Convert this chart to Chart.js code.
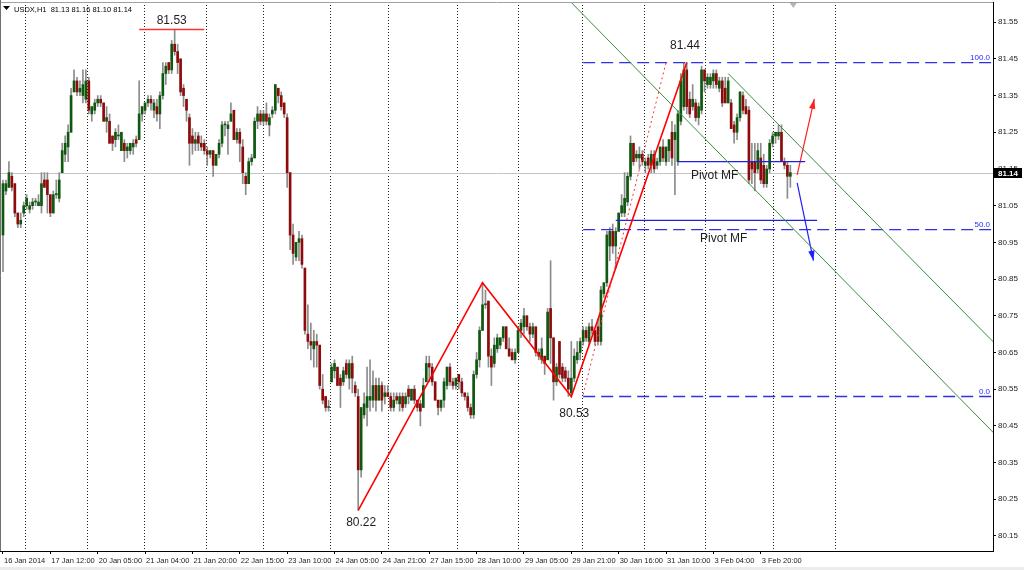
<!DOCTYPE html>
<html>
<head>
<meta charset="utf-8">
<title>USDX,H1</title>
<script src="https://cdn.jsdelivr.net/npm/chart.js@4.4.1/dist/chart.umd.min.js"></script>
<style>
  html, body { margin: 0; padding: 0; background: #fff; }
  #wrap { width: 1024px; height: 570px; }
</style>
</head>
<body>
<div id="wrap"><canvas id="chart" width="1024" height="570"></canvas></div>
<script>
// USDX H1 candles, 16 Jan 2014 .. 4 Feb 2014
const opens = [
  80.97,81.09,81.10,81.13,81.11,81.03,81.00,81.03,81.05,81.04,
  81.05,81.06,81.05,81.05,81.12,81.12,81.08,81.03,81.08,81.07,
  81.14,81.19,81.21,81.25,81.36,81.39,81.36,81.35,81.34,81.39,
  81.30,81.31,81.33,81.34,81.33,81.28,81.28,81.24,81.23,81.24,
  81.20,81.22,81.20,81.20,81.21,81.23,81.23,81.30,81.31,81.33,
  81.34,81.31,81.32,81.30,81.35,81.41,81.44,81.42,81.49,81.47,
  81.45,81.37,81.34,81.29,81.24,81.22,81.24,81.22,81.22,81.20,
  81.19,81.20,81.16,81.19,81.22,81.27,81.26,81.28,81.31,81.23,
  81.25,81.21,81.13,81.11,81.17,81.18,81.28,81.30,81.28,81.30,
  81.27,81.30,81.31,81.37,81.35,81.33,81.29,81.14,80.97,80.91,
  80.95,80.96,80.88,80.70,80.68,80.66,80.68,80.67,80.55,80.53,
  80.50,80.57,80.60,80.61,80.58,80.57,80.62,80.58,80.62,80.56,
  80.53,80.33,80.48,80.50,80.52,80.52,80.56,80.52,80.56,80.53,
  80.54,80.53,80.50,80.53,80.51,80.53,80.51,80.55,80.52,80.55,
  80.52,80.51,80.50,80.57,80.62,80.61,80.57,80.52,80.50,80.52,
  80.56,80.61,80.57,80.56,80.59,80.57,80.54,80.53,80.50,80.48,
  80.59,80.63,80.71,80.78,80.79,80.64,80.62,80.66,80.67,80.69,
  80.72,80.66,80.65,80.63,80.65,80.71,80.72,80.75,80.72,80.70,
  80.72,80.65,80.63,80.64,80.63,80.77,80.69,80.57,80.68,80.61,
  80.60,80.58,80.54,80.58,80.63,80.65,80.68,80.71,80.68,80.72,
  80.71,80.72,80.68,80.81,80.84,80.94,80.98,80.94,80.98,81.03,
  81.03,81.06,81.13,81.22,81.18,81.18,81.19,81.16,81.18,81.16,
  81.19,81.16,81.17,81.21,81.17,81.20,81.25,81.23,81.17,81.28,
  81.32,81.42,81.34,81.32,81.33,81.29,81.31,81.42,81.38,81.38,
  81.39,81.41,81.37,81.39,81.37,81.33,81.33,81.27,81.25,81.29,
  81.35,81.32,81.31,81.17,81.17,81.15,81.18,81.16,81.11,81.15,
  81.22,81.24,81.24,81.25,81.17,81.16,81.13
];
const highs = [
  81.12,81.12,81.17,81.14,81.11,81.03,81.03,81.06,81.08,81.06,
  81.07,81.07,81.08,81.14,81.14,81.14,81.08,81.09,81.12,81.14,
  81.22,81.24,81.27,81.37,81.42,81.40,81.39,81.42,81.42,81.40,
  81.32,81.34,81.35,81.35,81.33,81.32,81.30,81.24,81.26,81.27,
  81.25,81.23,81.22,81.22,81.23,81.24,81.39,81.32,81.33,81.35,
  81.35,81.34,81.34,81.36,81.44,81.44,81.44,81.50,81.53,81.49,
  81.45,81.38,81.34,81.30,81.26,81.25,81.25,81.24,81.23,81.21,
  81.20,81.20,81.19,81.23,81.28,81.28,81.28,81.33,81.31,81.26,
  81.26,81.23,81.14,81.18,81.19,81.29,81.32,81.31,81.31,81.33,
  81.30,81.32,81.38,81.37,81.36,81.33,81.30,81.14,81.00,80.95,
  80.98,80.97,80.88,80.78,80.73,80.71,80.70,80.67,80.59,80.53,
  80.52,80.62,80.63,80.61,80.59,80.61,80.63,80.63,80.64,80.57,
  80.55,80.50,80.54,80.61,80.63,80.60,80.58,80.58,80.57,80.56,
  80.56,80.54,80.54,80.54,80.54,80.54,80.54,80.56,80.55,80.56,
  80.52,80.52,80.58,80.64,80.64,80.62,80.57,80.52,80.52,80.58,
  80.61,80.62,80.58,80.58,80.59,80.58,80.54,80.54,80.51,80.60,
  80.65,80.72,80.84,80.82,80.79,80.66,80.69,80.70,80.69,80.72,
  80.72,80.69,80.66,80.66,80.72,80.74,80.77,80.75,80.73,80.73,
  80.72,80.66,80.69,80.64,80.77,80.90,80.69,80.62,80.68,80.62,
  80.61,80.60,80.68,80.66,80.68,80.69,80.72,80.72,80.73,80.74,
  80.71,80.74,80.83,80.84,80.98,80.99,81.00,80.99,81.03,81.08,
  81.14,81.14,81.24,81.22,81.20,81.21,81.20,81.18,81.19,81.20,
  81.20,81.18,81.21,81.23,81.21,81.23,81.28,81.27,81.31,81.41,
  81.44,81.44,81.36,81.38,81.34,81.33,81.43,81.42,81.41,81.41,
  81.42,81.42,81.40,81.40,81.40,81.40,81.34,81.28,81.30,81.36,
  81.36,81.34,81.32,81.22,81.22,81.22,81.22,81.19,81.16,81.23,
  81.25,81.25,81.27,81.27,81.18,81.17,81.16
];
const lows = [
  80.87,81.08,81.10,81.09,81.02,80.99,80.99,81.02,81.04,81.03,
  81.04,81.05,81.05,81.03,81.10,81.03,81.02,81.03,81.07,81.06,
  81.14,81.17,81.17,81.25,81.36,81.35,81.35,81.33,81.33,81.30,
  81.28,81.30,81.32,81.32,81.28,81.25,81.22,81.20,81.21,81.23,
  81.20,81.17,81.18,81.19,81.19,81.21,81.23,81.28,81.30,81.32,
  81.31,81.29,81.28,81.26,81.34,81.38,81.41,81.41,81.46,81.41,
  81.35,81.32,81.28,81.16,81.19,81.20,81.20,81.20,81.19,81.16,
  81.18,81.13,81.16,81.18,81.21,81.24,81.19,81.28,81.23,81.22,
  81.17,81.11,81.08,81.11,81.16,81.18,81.26,81.27,81.27,81.27,
  81.24,81.29,81.30,81.33,81.31,81.29,81.10,80.93,80.89,80.90,
  80.90,80.88,80.70,80.66,80.63,80.61,80.61,80.55,80.51,80.49,
  80.49,80.57,80.58,80.56,80.50,80.56,80.58,80.55,80.54,80.53,
  80.22,80.31,80.47,80.45,80.49,80.50,80.49,80.52,80.49,80.51,
  80.53,80.49,80.49,80.51,80.49,80.49,80.50,80.51,80.52,80.51,
  80.49,80.45,80.50,80.57,80.57,80.56,80.52,80.48,80.49,80.50,
  80.55,80.56,80.55,80.55,80.55,80.53,80.52,80.49,80.47,80.47,
  80.58,80.61,80.71,80.77,80.61,80.56,80.61,80.65,80.66,80.68,
  80.66,80.64,80.63,80.62,80.65,80.69,80.70,80.71,80.68,80.69,
  80.64,80.63,80.62,80.59,80.63,80.62,80.52,80.56,80.58,80.57,
  80.57,80.53,80.53,80.57,80.62,80.63,80.67,80.68,80.67,80.70,
  80.67,80.67,80.67,80.80,80.83,80.90,80.92,80.88,80.98,81.02,
  81.02,81.05,81.12,81.16,81.17,81.15,81.16,81.14,81.15,81.14,
  81.14,81.15,81.16,81.17,81.16,81.17,81.16,81.08,81.16,81.27,
  81.31,81.30,81.29,81.31,81.28,81.27,81.30,81.36,81.37,81.37,
  81.37,81.37,81.36,81.32,81.33,81.33,81.26,81.22,81.23,81.28,
  81.30,81.30,81.11,81.11,81.09,81.14,81.11,81.10,81.10,81.14,
  81.21,81.22,81.23,81.17,81.15,81.07,81.10
];
const closes = [
  81.11,81.11,81.14,81.10,81.03,81.00,81.01,81.05,81.07,81.05,
  81.06,81.06,81.06,81.11,81.10,81.08,81.03,81.08,81.08,81.12,
  81.20,81.22,81.25,81.35,81.39,81.36,81.37,81.38,81.39,81.31,
  81.32,81.33,81.34,81.33,81.28,81.29,81.22,81.22,81.25,81.24,
  81.25,81.20,81.21,81.22,81.22,81.22,81.30,81.32,81.33,81.34,
  81.33,81.33,81.30,81.35,81.41,81.43,81.42,81.49,81.47,81.44,
  81.36,81.35,81.31,81.22,81.22,81.23,81.22,81.21,81.20,81.19,
  81.20,81.16,81.19,81.22,81.27,81.27,81.27,81.30,81.23,81.25,
  81.22,81.14,81.11,81.17,81.18,81.28,81.30,81.28,81.30,81.28,
  81.29,81.31,81.38,81.35,81.32,81.30,81.14,80.97,80.92,80.95,
  80.96,80.89,80.71,80.68,80.67,80.68,80.67,80.56,80.52,80.50,
  80.50,80.61,80.62,80.56,80.56,80.60,80.59,80.62,80.58,80.54,
  80.33,80.50,80.51,80.53,80.53,80.56,80.52,80.56,80.52,80.54,
  80.53,80.50,80.52,80.52,80.53,80.50,80.53,80.53,80.55,80.52,
  80.50,80.49,80.56,80.62,80.61,80.57,80.52,80.50,80.52,80.57,
  80.61,80.57,80.56,80.58,80.57,80.54,80.53,80.50,80.48,80.59,
  80.63,80.71,80.78,80.78,80.64,80.61,80.67,80.69,80.69,80.72,
  80.66,80.64,80.63,80.65,80.71,80.73,80.75,80.72,80.70,80.72,
  80.65,80.64,80.66,80.62,80.76,80.69,80.57,80.61,80.59,80.58,
  80.58,80.55,80.58,80.64,80.65,80.68,80.71,80.69,80.72,80.71,
  80.68,80.68,80.82,80.84,80.97,80.98,80.94,80.98,81.03,81.05,
  81.07,81.13,81.22,81.17,81.19,81.19,81.17,81.17,81.16,81.19,
  81.15,81.17,81.21,81.18,81.21,81.23,81.18,81.25,81.30,81.39,
  81.42,81.32,81.30,81.34,81.29,81.32,81.42,81.39,81.40,81.40,
  81.41,81.38,81.39,81.33,81.33,81.39,81.26,81.25,81.29,81.36,
  81.31,81.30,81.12,81.15,81.14,81.20,81.12,81.11,81.15,81.22,
  81.24,81.25,81.25,81.17,81.16,81.13,81.14
];

// axes
const timeLabels = ['16 Jan 2014','17 Jan 12:00','20 Jan 05:00','21 Jan 04:00','21 Jan 20:00',
  '22 Jan 15:00','23 Jan 10:00','24 Jan 05:00','24 Jan 21:00','27 Jan 15:00','28 Jan 10:00',
  '29 Jan 05:00','29 Jan 21:00','30 Jan 16:00','31 Jan 10:00','3 Feb 04:00','3 Feb 20:00'];
const labelBars = [0,16,32,48,64,80,96,112,128,144,160,176,192,208,224,240,256];
const daySeparators = [7.5,28.5,47.5,68.5,88,110.5,130,153.5,174,195.5,216.5,237,260,281];
const priceTicks = [81.55,81.45,81.35,81.25,81.15,81.05,80.95,80.85,80.75,80.65,80.55,80.45,80.35,80.25,80.15];
const lastPrice = 81.14;

// objects drawn on the chart: [bar index, price]
const zigzag = [[120,80.22],[162,80.84],[192,80.53],[231,81.44]];
const zigzagProj = [[196,80.535],[224,81.44]];
const channelLow = [[190,81.62],[336,80.42]];
const channelHigh = [[245,81.41],[336,80.667]];
const highMark = [[46,81.53],[68,81.53]];
const fibLevels = [81.44, 80.985, 80.53];
const fibNames = ['100.0','50.0','0.0'];
const fibRange = [196, 340];
const pivotHigh = [[228,81.17],[271,81.17]];
const pivotLow = [[207,81.01],[275,81.01]];
const arrowUp = [[268.3,81.134],[274.1,81.341]];
const arrowDown = [[268.3,81.112],[273.8,80.90]];
const notes = [
  {bar:57,  price:81.53, text:'81.53', dy:-9,  align:'center'},
  {bar:230.4, price:81.44, text:'81.44', dy:-17, align:'center'},
  {bar:193, price:80.53, text:'80.53', dy:17,  align:'center'},
  {bar:121, price:80.22, text:'80.22', dy:12,  align:'center'},
  {bar:232.4, price:81.17, text:'Pivot MF', dy:14, align:'left'},
  {bar:235.5, price:81.01, text:'Pivot MF', dy:18, align:'left'}
];

const bull = '#0f580f', bear = '#8e0b0b', wickCol = '#8c8c8c';
const bars = closes.map((_, i) => i);
const pts = a => a.map(([x, y]) => ({x, y}));

function lineDs(data, color, width, dash) {
  return { type:'line', data: pts(data), borderColor: color, borderWidth: width,
    borderDash: dash || [], pointRadius: 0, fill: false, tension: 0, order: 0 };
}

const datasets = [
  { type:'bar', data: bars.map(i => ({x:i, y:[lows[i], highs[i]]})),
    backgroundColor: wickCol, barThickness: 1, grouped: false, order: 3 },
  { type:'bar', data: bars.map(i => ({x:i, y:[opens[i], closes[i]]})),
    backgroundColor: bars.map(i => closes[i] >= opens[i] ? bull : bear),
    barThickness: 2, minBarLength: 1, grouped: false, order: 2 },
  lineDs(channelLow, '#3d8b3d', 1),
  lineDs(channelHigh, '#3d8b3d', 1),
  lineDs(zigzagProj, '#ff3030', 1, [2, 3]),
  lineDs(zigzag, '#ff0000', 1.6),
  lineDs(highMark, '#ff3333', 1.5),
  lineDs(pivotHigh, '#2020e0', 1.2),
  lineDs(pivotLow, '#2020e0', 1.2),
  lineDs(arrowUp, '#ff2020', 1.2),
  lineDs(arrowDown, '#2020ff', 1.2)
];
fibLevels.forEach(v => datasets.push(lineDs([[fibRange[0], v], [fibRange[1], v]], '#3030e8', 1.3, [12, 6])));

function arrowHead(ctx, x0, y0, x1, y1, color) {
  const a = Math.atan2(y1 - y0, x1 - x0), L = 10, W = 3.2;
  ctx.fillStyle = color;
  ctx.beginPath();
  ctx.moveTo(x1, y1);
  ctx.lineTo(x1 - L * Math.cos(a) + W * Math.sin(a), y1 - L * Math.sin(a) - W * Math.cos(a));
  ctx.lineTo(x1 - L * Math.cos(a) - W * Math.sin(a), y1 - L * Math.sin(a) + W * Math.cos(a));
  ctx.closePath();
  ctx.fill();
}

const decor = {
  id: 'decor',
  beforeDatasetsDraw(chart) {
    const {ctx, chartArea: a, scales: {x, y}} = chart;
    ctx.save();
    ctx.beginPath(); ctx.rect(a.left, a.top, a.right - a.left, a.bottom - a.top); ctx.clip();
    ctx.strokeStyle = '#222'; ctx.lineWidth = 1; ctx.setLineDash([1, 2]);
    daySeparators.forEach(d => {
      const px = Math.round(x.getPixelForValue(d)) + 0.5;
      ctx.beginPath(); ctx.moveTo(px, a.top); ctx.lineTo(px, a.bottom); ctx.stroke();
    });
    ctx.setLineDash([]); ctx.strokeStyle = '#c4c4c4';
    const py = Math.round(y.getPixelForValue(lastPrice)) + 0.5;
    ctx.beginPath(); ctx.moveTo(a.left, py); ctx.lineTo(a.right, py); ctx.stroke();
    ctx.restore();
  },
  afterDatasetsDraw(chart) {
    const {ctx, chartArea: a, scales: {x, y}} = chart;
    ctx.save();
    const px = p => [x.getPixelForValue(p[0]), y.getPixelForValue(p[1])];
    let [u0, u1] = [px(arrowUp[0]), px(arrowUp[1])];
    arrowHead(ctx, u0[0], u0[1], u1[0], u1[1], '#ff2020');
    [u0, u1] = [px(arrowDown[0]), px(arrowDown[1])];
    arrowHead(ctx, u0[0], u0[1], u1[0], u1[1], '#2020ff');

    ctx.font = '12px "Liberation Sans", Arial, sans-serif';
    ctx.fillStyle = '#1e1e1e';
    ctx.textBaseline = 'middle';
    notes.forEach(n => {
      ctx.textAlign = n.align;
      ctx.fillText(n.text, x.getPixelForValue(n.bar), y.getPixelForValue(n.price) + n.dy);
    });

    ctx.font = '8px "Liberation Sans", Arial, sans-serif';
    ctx.fillStyle = '#2a2aff';
    ctx.textAlign = 'right';
    ctx.textBaseline = 'bottom';
    fibLevels.forEach((v, i) => ctx.fillText(fibNames[i], a.right - 3, y.getPixelForValue(v) - 1));
    ctx.restore();
  },
  afterDraw(chart) {
    const {ctx, chartArea: a, scales: {x, y}} = chart;
    ctx.save();
    // frame
    ctx.strokeStyle = '#a0a0a0'; ctx.lineWidth = 1;
    ctx.beginPath(); ctx.moveTo(0, a.top + 0.5); ctx.lineTo(a.right, a.top + 0.5); ctx.stroke();
    ctx.strokeStyle = '#707070';
    ctx.beginPath(); ctx.moveTo(0.5, 0); ctx.lineTo(0.5, a.bottom); ctx.stroke();
    ctx.fillStyle = '#ececec';
    ctx.fillRect(0, 567, chart.width, 3);
    // chart shift marker
    const sx = x.getPixelForValue(closes.length);
    ctx.fillStyle = '#b4b4b4';
    ctx.beginPath(); ctx.moveTo(sx - 3.5, a.top + 1); ctx.lineTo(sx + 3.5, a.top + 1); ctx.lineTo(sx, a.top + 6); ctx.closePath(); ctx.fill();
    // last price box on the axis
    const py = Math.round(y.getPixelForValue(lastPrice));
    ctx.fillStyle = '#000';
    ctx.fillRect(a.right + 1, py - 5, 28, 10);
    ctx.fillStyle = '#fff';
    ctx.font = 'bold 8px "Liberation Sans", Arial, sans-serif';
    ctx.textAlign = 'left'; ctx.textBaseline = 'middle';
    ctx.fillText(lastPrice.toFixed(2), a.right + 5, py + 0.5);
    // header
    ctx.fillStyle = '#000';
    ctx.beginPath(); ctx.moveTo(3, 6); ctx.lineTo(10, 6); ctx.lineTo(6.5, 10); ctx.closePath(); ctx.fill();
    ctx.font = '7.5px "Liberation Sans", Arial, sans-serif';
    const n = closes.length - 1;
    ctx.fillText('USDX,H1  ' + [opens[n], highs[n], lows[n], closes[n]].map(v => v.toFixed(2)).join(' '), 14, 10);
    ctx.restore();
  }
};

Chart.defaults.font.family = '"Liberation Sans", Arial, sans-serif';
new Chart(document.getElementById('chart'), {
  type: 'bar',
  data: { datasets },
  options: {
    responsive: false,
    animation: false,
    events: [],
    layout: { padding: { top: 2, left: 0, right: 0, bottom: 0 } },
    plugins: { legend: { display: false }, tooltip: { enabled: false } },
    scales: {
      x: {
        type: 'linear', min: -1.01, max: 334.46, offset: false, bounds: 'data',
        afterBuildTicks: s => { s.ticks = labelBars.map(v => ({value: v})); },
        afterFit: s => { s.height = 19; s.paddingLeft = 0; s.paddingRight = 0; },
        ticks: { callback: v => timeLabels[labelBars.indexOf(v)], align: 'start', autoSkip: false,
          maxRotation: 0, minRotation: 0, padding: 2, labelOffset: 1, color: '#222', font: { size: 7.5 } },
        grid: { drawOnChartArea: false, drawTicks: true, tickLength: 3, color: '#000', offset: false },
        border: { display: true, color: '#000' }
      },
      y: {
        type: 'linear', position: 'right', min: 80.109, max: 81.605, bounds: 'data', beginAtZero: false,
        afterBuildTicks: s => { s.ticks = priceTicks.map(v => ({value: v})); },
        afterFit: s => { s.width = 31; s.paddingTop = 0; s.paddingBottom = 0; },
        ticks: { callback: v => v.toFixed(2), autoSkip: false, padding: 2, color: '#222', font: { size: 8 } },
        grid: { drawOnChartArea: false, drawTicks: true, tickLength: 3, color: '#000' },
        border: { display: true, color: '#000' }
      }
    }
  },
  plugins: [decor]
});
</script>
</body>
</html>
